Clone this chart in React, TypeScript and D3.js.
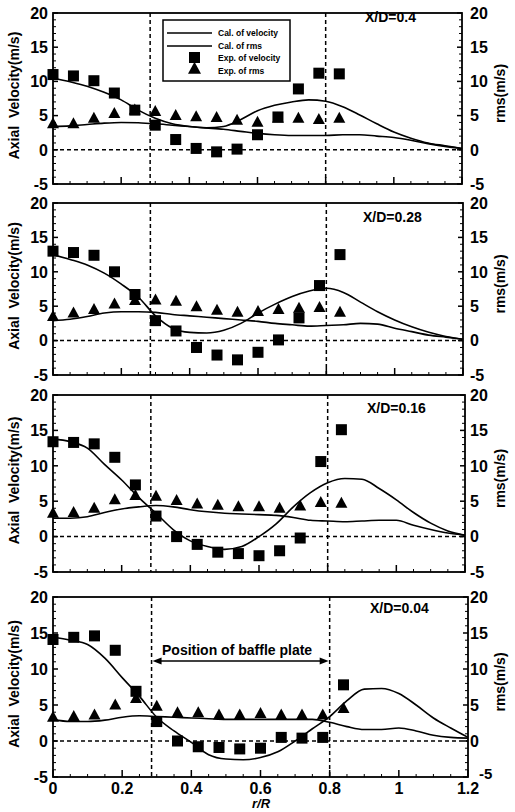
import React from 'react';
import * as d3 from 'd3';

// ---------- data ----------
const expR = [0, 0.06, 0.12, 0.18, 0.24, 0.3, 0.36, 0.42, 0.48, 0.54, 0.6, 0.66, 0.72, 0.78, 0.84];
const calR = [0, 0.05, 0.1, 0.15, 0.2, 0.25, 0.3, 0.35, 0.4, 0.45, 0.5, 0.55, 0.6, 0.65, 0.7, 0.75, 0.8, 0.85, 0.9, 0.95, 1.0, 1.05, 1.1, 1.15, 1.2];

const panelTitles = ['X/D=0.4', 'X/D=0.28', 'X/D=0.16', 'X/D=0.04'];

// X/D = 0.4
const expVel04 = [11, 10.8, 10.1, 8.3, 5.8, 3.6, 1.5, 0.2, -0.3, 0.1, 2.2, 4.8, 8.9, 11.2, 11.1];
const expRms04 = [3.8, 3.8, 4.6, 5.3, 5.8, 5.6, 5.0, 4.8, 4.7, 4.3, 4.0, 4.6, 4.6, 4.4, 4.6];
const calVel04 = [10.5, 9.95, 9.3, 8.4, 7.3, 5.8, 4.6, 3.8, 3.4, 3.2, 3.4, 4.4, 5.7, 6.5, 7.0, 7.3, 7.1, 6.3, 5.1, 3.8, 2.6, 1.7, 1.0, 0.6, 0.2];
const calRms04 = [3.4, 3.5, 3.7, 3.9, 4.0, 3.95, 3.8, 3.6, 3.4, 3.2, 3.0, 2.7, 2.4, 2.2, 2.1, 2.1, 2.1, 2.2, 2.2, 2.0, 1.8, 1.4, 0.9, 0.5, 0.2];

// X/D = 0.28
const expVel028 = [13, 12.8, 12.4, 10.0, 6.7, 2.9, 1.4, -1.0, -2.1, -2.8, -1.7, 0.1, 3.3, 8.0, 12.5];
const expRms028 = [3.5, 4.0, 4.5, 5.3, 5.8, 5.9, 5.7, 4.9, 4.4, 4.1, 4.2, 4.5, 4.7, 4.8, 4.1];
const calVel028 = [12.5, 11.8, 11.0, 9.8, 8.2, 6.3, 3.6, 1.8, 1.2, 1.1, 1.5, 2.5, 4.0, 5.3, 6.4, 7.2, 7.6, 7.0, 5.6, 4.2, 3.0, 2.0, 1.2, 0.6, 0.2];
const calRms028 = [2.9, 3.1, 3.5, 4.0, 4.2, 4.2, 4.1, 3.8, 3.6, 3.4, 3.2, 3.0, 2.8, 2.5, 2.3, 2.1, 2.2, 2.3, 2.5, 2.4, 1.8, 1.3, 0.8, 0.5, 0.2];

// X/D = 0.16
const expVel016 = [13.4, 13.3, 13.1, 11.2, 7.3, 2.9, 0.0, -1.1, -2.2, -2.4, -2.7, -2.0, -0.2, 10.6, 15.1];
const expRms016 = [3.3, 3.4, 4.0, 5.2, 5.8, 5.7, 5.1, 4.6, 4.4, 4.2, 4.2, 4.0, 4.3, 4.8, 4.7];
const calVel016 = [13.8, 13.4, 12.5, 10.2, 8.0, 5.5, 3.3, 1.0, -0.6, -1.4, -1.8, -1.4, 0.0, 1.8, 4.2, 6.2, 7.6, 8.2, 8.1, 6.8, 5.2, 3.4, 1.9, 0.8, 0.2];
const calRms016 = [2.6, 2.6, 2.8, 3.4, 3.9, 4.2, 4.4, 4.2, 3.8, 3.5, 3.3, 3.2, 3.1, 3.0, 2.7, 2.3, 2.2, 2.1, 2.2, 2.3, 2.3, 1.6, 1.0, 0.5, 0.2];

// X/D = 0.04
const expVel004 = [14.1, 14.4, 14.6, 12.6, 6.9, 2.7, 0.0, -0.8, -0.9, -1.1, -1.0, 0.5, 0.4, 0.5, 7.8];
const expRms004 = [3.3, 3.4, 3.6, 5.0, 5.9, 4.8, 3.9, 3.9, 3.6, 3.6, 3.8, 3.6, 3.6, 3.6, 4.5];
const calVel004 = [14.4, 14.0, 13.4, 11.5, 8.8, 6.2, 3.3, 1.4, -0.2, -1.9, -2.5, -2.6, -2.3, -1.5, 0.0, 1.7, 3.4, 5.6, 7.2, 7.3, 6.6, 5.0, 3.2, 1.8, 0.5];
const calRms004 = [3.0, 2.7, 2.7, 2.9, 3.3, 3.5, 3.4, 3.3, 3.2, 3.1, 3.0, 3.0, 3.0, 3.0, 3.0, 3.0, 2.6, 2.0, 1.6, 1.6, 1.8, 1.4, 0.8, 0.5, 0.4];

const expVelAll = [expVel04, expVel028, expVel016, expVel004];
const expRmsAll = [expRms04, expRms028, expRms016, expRms004];
const calVelAll = [calVel04, calVel028, calVel016, calVel004];
const calRmsAll = [calRms04, calRms028, calRms016, calRms004];

const yTicks = [-5, 0, 5, 10, 15, 20];
const yMinorTicks = [-4, -3, -2, -1, 1, 2, 3, 4, 6, 7, 8, 9, 11, 12, 13, 14, 16, 17, 18, 19];
const xTicks = [0, 0.2, 0.4, 0.6, 0.8, 1, 1.2];
const xTickLabels = ['0', '0.2', '0.4', '0.6', '0.8', '1', '1.2'];
const xMinorTicks = [0.05, 0.1, 0.15, 0.25, 0.3, 0.35, 0.45, 0.5, 0.55, 0.65, 0.7, 0.75, 0.85, 0.9, 0.95, 1.05, 1.1, 1.15];
const baffleR = [0.285, 0.8];
const legendLabels = ['Cal. of velocity', 'Cal. of rms', 'Exp. of velocity', 'Exp. of rms'];

// ---------- layout ----------
const W = 515;
const H = 812;
const LEFT = 53;
const layout = [
  { top: 13, bottom: 184, right: 462, tx: 365, ty: 22 },
  { top: 203, bottom: 375, right: 463, tx: 363, ty: 222 },
  { top: 395, bottom: 572, right: 465, tx: 367, ty: 413 },
  { top: 597, bottom: 777, right: 468, tx: 370, ty: 613 },
];
const FONT = "'Liberation Sans', Arial, sans-serif";

function tri(x: number, y: number, w: number, h: number) {
  return `M${x},${y - h * 0.6}L${x - w / 2},${y + h * 0.4}L${x + w / 2},${y + h * 0.4}Z`;
}

function Panel({ i }: { i: number }) {
  const L = layout[i];
  const x = d3.scaleLinear().domain([0, 1.2]).range([LEFT, L.right]);
  const y = d3.scaleLinear().domain([-5, 20]).range([L.bottom, L.top]);
  const line = d3
    .line<number>()
    .x((_, k) => x(calR[k]))
    .y((d) => y(d))
    .curve(d3.curveMonotoneX);
  const mid = (L.top + L.bottom) / 2;
  const isLast = i === 3;
  return (
    <g>
      <line x1={LEFT} x2={L.right} y1={y(0)} y2={y(0)} stroke="#000" strokeWidth={1.5} strokeDasharray="4,3" />
      {baffleR.map((r) => (
        <line key={r} x1={x(r)} x2={x(r)} y1={L.top} y2={L.bottom} stroke="#000" strokeWidth={1.5} strokeDasharray="4,3" />
      ))}
      {yTicks.map((t) => (
        <g key={'yt' + t}>
          <line x1={LEFT} x2={LEFT + 5} y1={y(t)} y2={y(t)} stroke="#000" strokeWidth={1.5} />
          <line x1={L.right} x2={L.right - 5} y1={y(t)} y2={y(t)} stroke="#000" strokeWidth={1.5} />
        </g>
      ))}
      {yMinorTicks.map((t) => (
        <g key={'ym' + t}>
          <line x1={LEFT} x2={LEFT + 3} y1={y(t)} y2={y(t)} stroke="#000" strokeWidth={1} />
          <line x1={L.right} x2={L.right - 3} y1={y(t)} y2={y(t)} stroke="#000" strokeWidth={1} />
        </g>
      ))}
      {xTicks.map((t) => (
        <line key={'xt' + t} x1={x(t)} x2={x(t)} y1={L.bottom} y2={L.bottom - 7} stroke="#000" strokeWidth={1.5} />
      ))}
      {xMinorTicks.map((t) => (
        <line key={'xm' + t} x1={x(t)} x2={x(t)} y1={L.bottom} y2={L.bottom - 3} stroke="#000" strokeWidth={1} />
      ))}
      <rect x={LEFT} y={L.top} width={L.right - LEFT} height={L.bottom - L.top} fill="none" stroke="#000" strokeWidth={1.8} />
      <path d={line(calVelAll[i]) || ''} fill="none" stroke="#000" strokeWidth={1.6} />
      <path d={line(calRmsAll[i]) || ''} fill="none" stroke="#000" strokeWidth={1.6} />
      {expVelAll[i].map((v, k) => (
        <rect key={'s' + k} x={x(expR[k]) - 5.5} y={y(v) - 5.5} width={11} height={11} fill="#000" />
      ))}
      {expRmsAll[i].map((v, k) => (
        <path key={'t' + k} d={tri(x(expR[k]), y(v), 12, 11)} fill="#000" />
      ))}
      {yTicks.map((t) => (
        <text key={'yl' + t} x={48} y={y(t)} dy="0.36em" textAnchor="end" fontFamily={FONT} fontWeight="bold" fontSize={16}>
          {t}
        </text>
      ))}
      {yTicks.map((t) => {
        const corner = isLast && t === -5;
        return (
          <text
            key={'yr' + t}
            x={corner ? 479 : 470}
            y={corner ? y(t) - 3 : y(t)}
            dy="0.36em"
            textAnchor="start"
            fontFamily={FONT}
            fontWeight="bold"
            fontSize={corner ? 15 : 16}
          >
            {t}
          </text>
        );
      })}
      <text
        transform={`translate(19,${mid - 3}) rotate(-90)`}
        textAnchor="middle"
        fontFamily={FONT}
        fontWeight="bold"
        fontSize={14}
        style={{ whiteSpace: 'pre' }}
      >
        {'Axial  Velocity(m/s)'}
      </text>
      <text transform={`translate(505,${mid - 5}) rotate(-90)`} textAnchor="middle" fontFamily={FONT} fontWeight="bold" fontSize={14}>
        rms(m/s)
      </text>
      <text x={L.tx} y={L.ty} fontFamily={FONT} fontWeight="bold" fontSize={14}>
        {panelTitles[i]}
      </text>
      {isLast && (
        <g>
          {xTicks.map((t, k) => (
            <text key={'xl' + t} x={x(t)} y={794} textAnchor="middle" fontFamily={FONT} fontWeight="bold" fontSize={16}>
              {xTickLabels[k]}
            </text>
          ))}
          <text x={261} y={808} textAnchor="middle" fontFamily={FONT} fontWeight="bold" fontStyle="italic" fontSize={13}>
            r/R
          </text>
          <text x={162} y={655} fontFamily={FONT} fontWeight="bold" fontSize={14}>
            Position of baffle plate
          </text>
          <line x1={x(baffleR[0]) + 8} x2={x(baffleR[1]) - 8} y1={661} y2={661} stroke="#000" strokeWidth={1.5} />
          <path d={`M${x(baffleR[0]) + 1},661L${x(baffleR[0]) + 10},657.5L${x(baffleR[0]) + 10},664.5Z`} fill="#000" />
          <path d={`M${x(baffleR[1]) - 1},661L${x(baffleR[1]) - 10},657.5L${x(baffleR[1]) - 10},664.5Z`} fill="#000" />
        </g>
      )}
      {i === 0 && (
        <g>
          <rect x={163} y={20} width={127} height={61} fill="#fff" stroke="#000" strokeWidth={1.5} />
          <line x1={167} x2={212} y1={33} y2={33} stroke="#000" strokeWidth={1.6} />
          <line x1={167} x2={212} y1={46} y2={46} stroke="#000" strokeWidth={1.6} />
          <rect x={189} y={52} width={11} height={11} fill="#000" />
          <path d={tri(194.5, 69, 13, 12)} fill="#000" />
          {legendLabels.map((s, k) => (
            <text key={s} x={218} y={36 + k * 12.5} fontFamily={FONT} fontWeight="bold" fontSize={8.5}>
              {s}
            </text>
          ))}
        </g>
      )}
    </g>
  );
}

export default function App() {
  return (
    <svg width={W} height={H} style={{ position: 'absolute', left: 0, top: 0, background: '#fff' }}>
      <rect x={0} y={0} width={W} height={H} fill="#fff" />
      {[0, 1, 2, 3].map((i) => (
        <Panel key={i} i={i} />
      ))}
    </svg>
  );
}
